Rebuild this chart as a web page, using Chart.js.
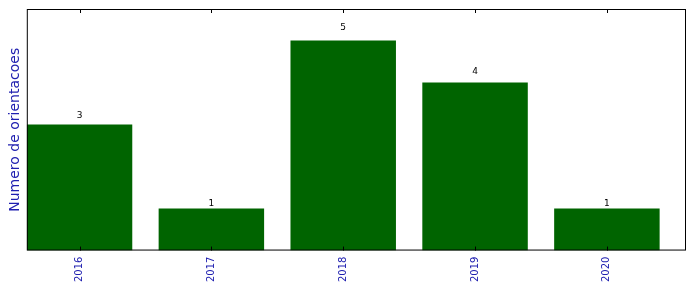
<!DOCTYPE html>
<html>
<head>
<meta charset="utf-8">
<script src="https://cdn.jsdelivr.net/npm/chart.js@4"></script>
<style>
  html, body { margin: 0; padding: 0; background: #fff; }
  #wrap { width: 696px; height: 292px; }
</style>
</head>
<body>
<div id="wrap"><canvas id="chart" width="696" height="292"></canvas></div>
<script>
const years = ['2016', '2017', '2018', '2019', '2020'];
const counts = [3, 1, 5, 4, 1];
const yMax = 5.75;

const labelBlue = '#2020b0';

// frame + inward tick marks, like the old matplotlib look
const framePlugin = {
    id: 'frame',
    afterDatasetsDraw(chart) {
        const { ctx, chartArea: a, scales } = chart;
        ctx.save();
        ctx.strokeStyle = '#000';
        ctx.lineWidth = 1;
        ctx.strokeRect(a.left + 0.5, a.top + 0.5, a.right - a.left - 1, a.bottom - a.top - 1);
        years.forEach((_, i) => {
            const x = Math.round(scales.x.getPixelForValue(i)) + 0.5;
            ctx.beginPath();
            ctx.moveTo(x, a.bottom);
            ctx.lineTo(x, a.bottom - 4);
            ctx.moveTo(x, a.top);
            ctx.lineTo(x, a.top + 4);
            ctx.stroke();
        });
        ctx.restore();
    }
};

// value text sits at 1.05 * height, as in the original
const valuePlugin = {
    id: 'values',
    afterDatasetsDraw(chart) {
        const { ctx, scales } = chart;
        const meta = chart.getDatasetMeta(0);
        ctx.save();
        ctx.fillStyle = '#000';
        ctx.font = '9px "DejaVu Sans"';
        ctx.textAlign = 'center';
        ctx.textBaseline = 'alphabetic';
        meta.data.forEach((bar, i) => {
            const y = scales.y.getPixelForValue(counts[i] * 1.05);
            ctx.fillText(String(counts[i]), bar.x, y);
        });
        ctx.restore();
    }
};

const ctx = document.getElementById('chart').getContext('2d');
new Chart(ctx, {
    type: 'bar',
    data: {
        datasets: [{
            data: counts.map((c, i) => ({ x: i, y: c })),
            backgroundColor: '#006400',
            borderWidth: 0,
            barPercentage: 0.8,
            categoryPercentage: 1.0
        }]
    },
    options: {
        responsive: false,
        animation: false,
        plugins: { legend: { display: false }, tooltip: { enabled: false } },
        layout: { padding: { left: 2, top: 9, right: 10, bottom: 4 } },
        scales: {
            x: {
                type: 'linear',
                offset: false,
                min: -0.4,
                max: 4.6,
                afterBuildTicks: s => { s.ticks = years.map((_, i) => ({ value: i })); },
                ticks: {
                    callback: v => years[v],
                    color: labelBlue,
                    font: { family: 'DejaVu Sans', size: 10 },
                    maxRotation: 90,
                    minRotation: 90,
                    padding: 6
                },
                grid: { display: false, drawTicks: false, tickLength: 0 },
                border: { display: false }
            },
            y: {
                min: 0,
                max: yMax,
                ticks: { display: false },
                grid: { display: false, drawTicks: false, tickLength: 0 },
                border: { display: false },
                title: {
                    display: true,
                    text: 'Numero de orientacoes',
                    color: labelBlue,
                    font: { family: 'DejaVu Sans', size: 14 },
                    padding: { top: 5, bottom: 3 }
                }
            }
        }
    },
    plugins: [framePlugin, valuePlugin]
});
</script>
</body>
</html>
